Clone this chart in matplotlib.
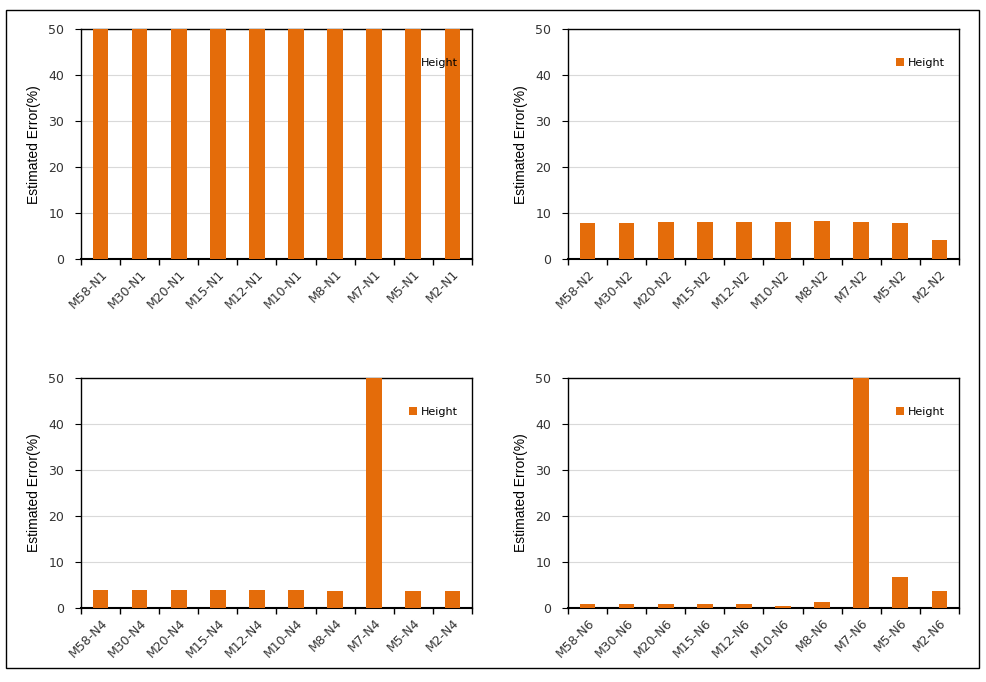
import matplotlib.pyplot as plt
from matplotlib.patches import Rectangle

models = ['M58', 'M30', 'M20', 'M15', 'M12', 'M10', 'M8', 'M7', 'M5', 'M2']

height_n1 = [50, 50, 50, 50, 50, 50, 50, 50, 50, 50]
height_n2 = [7.9, 7.9, 8.0, 8.0, 8.0, 8.0, 8.2, 8.0, 7.9, 4.1]
height_n4 = [4.0, 4.0, 4.0, 4.0, 4.0, 4.0, 3.7, 50, 3.7, 3.7]
height_n6 = [0.8, 0.8, 0.9, 0.8, 0.9, 0.5, 1.4, 50, 6.8, 3.8]

panels = [
    ('N1', height_n1, [0.0821, 0.620, 0.396, 0.337]),
    ('N2', height_n2, [0.5755, 0.620, 0.396, 0.337]),
    ('N4', height_n4, [0.0821, 0.1085, 0.396, 0.337]),
    ('N6', height_n6, [0.5755, 0.1085, 0.396, 0.337]),
]

bar_color = '#E46C0A'
fig = plt.figure(figsize=(9.87, 6.82), dpi=100)

# outer frame
fig.patches.append(Rectangle((0.006, 0.021), 0.986, 0.964, transform=fig.transFigure,
                             fill=False, edgecolor='black', linewidth=1.0))

for suffix, values, rect in panels:
    ax = fig.add_axes(rect)
    labels = [f'{m}-{suffix}' for m in models]
    x = list(range(len(labels)))
    ax.bar(x, values, width=0.4, color=bar_color, label='Height', zorder=3)
    ax.set_xlim(-0.5, len(labels) - 0.5)
    ax.set_ylim(0, 50)
    ax.set_yticks([0, 10, 20, 30, 40, 50])
    ax.yaxis.grid(True, color='#d9d9d9', linewidth=0.8, zorder=0)
    ax.set_xticks(x)
    ax.set_xticklabels(labels, rotation=45, ha='right', rotation_mode='anchor',
                       fontsize=9, color='#333333')
    ax.set_xticks([i - 0.5 for i in range(len(labels) + 1)], minor=True)
    ax.tick_params(axis='x', which='major', length=0, pad=6)
    ax.tick_params(axis='x', which='minor', length=4, direction='out', width=1)
    ax.tick_params(axis='y', length=4, direction='out', labelsize=9,
                   labelcolor='#333333', pad=8)
    for s in ax.spines.values():
        s.set_linewidth(1.0)
        s.set_color('black')
    ax.spines['bottom'].set_linewidth(1.5)
    ax.set_ylabel('Estimated Error(%)', fontsize=10, family='Liberation Sans', labelpad=5)
    ax.legend(loc='upper right', bbox_to_anchor=(0.99, 0.92), frameon=False,
              fontsize=8, handlelength=0.7, handleheight=0.7, handletextpad=0.4)

plt.savefig('out.png', dpi=100)
